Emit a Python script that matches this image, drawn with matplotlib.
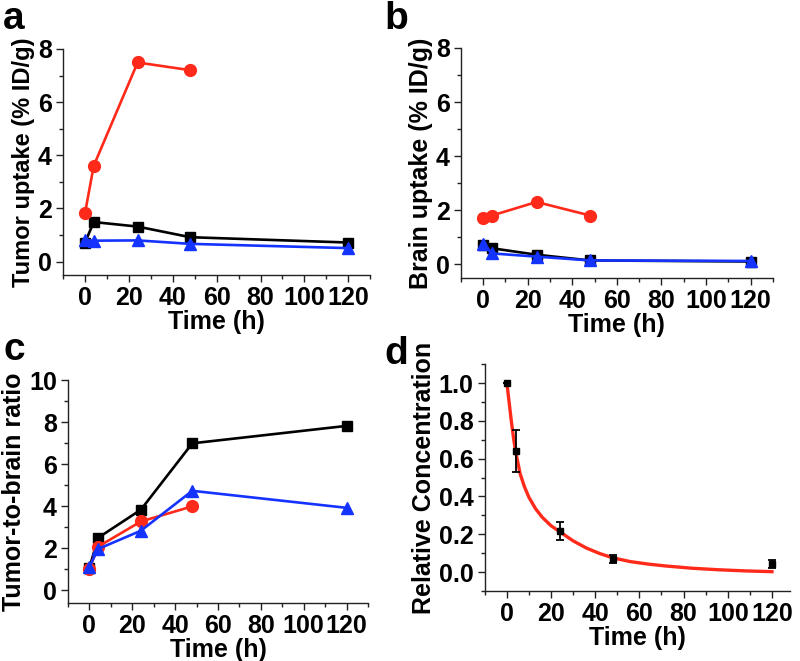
import matplotlib.pyplot as plt
from matplotlib.ticker import MultipleLocator

plt.rcParams['font.family'] = ['Liberation Sans', 'DejaVu Sans']
plt.rcParams['font.weight'] = 'bold'
plt.rcParams['axes.labelweight'] = 'bold'

RED = '#ff2a1a'
BLUE = '#1433ff'

# time points (h)
t_long = [0, 4, 24, 48, 120]
t_short = [0, 4, 24, 48]

# a: tumor uptake (% ID/g)
tumor_black = [0.72, 1.49, 1.32, 0.92, 0.72]
tumor_red = [1.82, 3.61, 7.49, 7.2]
tumor_blue = [0.81, 0.79, 0.80, 0.67, 0.51]

# b: brain uptake (% ID/g)
brain_black = [0.72, 0.6, 0.36, 0.15, 0.11]
brain_red = [1.7, 1.81, 2.31, 1.81]
brain_blue = [0.76, 0.41, 0.29, 0.15, 0.13]

# c: tumor-to-brain ratio
ratio_black = [1.07, 2.5, 3.84, 7.0, 7.83]
ratio_red = [1.03, 2.08, 3.28, 4.0]
ratio_blue = [1.12, 1.97, 2.84, 4.74, 3.93]

# d: relative concentration with error bars, plus fitted curve
conc = [1.0, 0.64, 0.217, 0.068, 0.042]
conc_err = [0.0, 0.11, 0.05, 0.02, 0.02]
fit_t = [0, 1, 2, 3, 4, 6, 8, 10, 13, 16, 20, 24, 30, 36, 42, 48, 56, 64, 72,
         84, 96, 108, 120]
fit_y = [1.0, 0.90, 0.80, 0.71, 0.635, 0.52, 0.45, 0.395, 0.335, 0.29, 0.245,
         0.213, 0.165, 0.127, 0.098, 0.075, 0.055, 0.042, 0.032, 0.020, 0.012,
         0.006, 0.002]

fig = plt.figure(figsize=(8, 6.61), dpi=100)


def style_axes(ax, xlim, ylim, ymajor, yminor):
    ax.set_xlim(*xlim)
    ax.set_ylim(*ylim)
    ax.spines['top'].set_visible(False)
    ax.spines['right'].set_visible(False)
    for s in ('left', 'bottom'):
        ax.spines[s].set_linewidth(1.0)
        ax.spines[s].set_color('#222222')
    ax.xaxis.set_major_locator(MultipleLocator(20))
    ax.xaxis.set_minor_locator(MultipleLocator(10))
    ax.yaxis.set_major_locator(MultipleLocator(ymajor))
    ax.yaxis.set_minor_locator(MultipleLocator(yminor))
    ax.tick_params(which='major', direction='out', length=5, width=1,
                   labelsize=18, pad=3, color='#222222')
    ax.tick_params(which='minor', direction='out', length=3, width=1,
                   color='#222222')
    ax.set_xlabel('Time (h)', fontsize=18, labelpad=0)


def three_series(ax, black, red, blue):
    ax.plot(t_long, black, color='black', lw=1.9, marker='s', ms=7.5, zorder=3)
    ax.plot(t_short, red, color=RED, lw=1.9, marker='o', ms=8.5, zorder=4)
    ax.plot(t_long, blue, color=BLUE, lw=1.9, marker='^', ms=8.5, zorder=5)


# panel a
ax_a = fig.add_axes([0.0788, 0.584, 0.384, 0.342])
three_series(ax_a, tumor_black, tumor_red, tumor_blue)
style_axes(ax_a, (-10, 130), (-0.5, 8), 2, 1)
ax_a.set_ylabel('Tumor uptake (% ID/g)', fontsize=17, labelpad=2)

# panel b
ax_b = fig.add_axes([0.576, 0.5794, 0.39, 0.348])
three_series(ax_b, brain_black, brain_red, brain_blue)
style_axes(ax_b, (-10, 130), (-0.5, 8), 2, 1)
ax_b.set_ylabel('Brain uptake (% ID/g)', fontsize=18, labelpad=2)

# panel c
ax_c = fig.add_axes([0.085, 0.0877, 0.375, 0.337])
three_series(ax_c, ratio_black, ratio_red, ratio_blue)
style_axes(ax_c, (-10, 130), (-0.6, 10), 2, 1)
ax_c.set_ylabel('Tumor-to-brain ratio', fontsize=18, labelpad=2)

# panel d
ax_d = fig.add_axes([0.606, 0.106, 0.381, 0.343])
ax_d.plot(fit_t, fit_y, color=RED, lw=2.4, zorder=3)
ax_d.errorbar(t_long, conc, yerr=conc_err, fmt='s', color='black', ms=5,
              elinewidth=1.3, capsize=3, capthick=1.3, zorder=4)
style_axes(ax_d, (-10, 128), (-0.1, 1.1), 0.2, 0.1)
ax_d.yaxis.set_major_formatter(lambda v, p: f'{v:.1f}')
ax_d.set_ylabel('Relative Concentration', fontsize=18, labelpad=2)

# panel letters
fig.text(0.004, 0.999, 'a', fontsize=28, fontweight='bold', va='top', ha='left')
fig.text(0.481, 0.999, 'b', fontsize=28, fontweight='bold', va='top', ha='left')
fig.text(0.004, 0.455, 'c', fontsize=28, fontweight='bold', va='baseline', ha='left')
fig.text(0.481, 0.449, 'd', fontsize=28, fontweight='bold', va='baseline', ha='left')

fig.savefig('out.png', dpi=100)
